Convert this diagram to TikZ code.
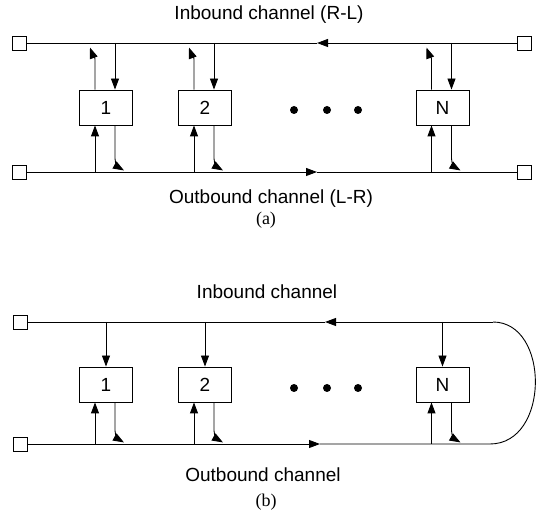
\documentclass[tikz,border=0pt]{standalone}
\usepackage{fontspec}
\setmainfont{Liberation Serif}
\newfontfamily\chfont{Liberation Sans}
\usetikzlibrary{arrows.meta}

\tikzset{
  station/.style={draw, minimum width=53pt, minimum height=35pt, inner sep=0pt, font=\chfont\fontsize{19}{22}\selectfont},
  port/.style={draw, minimum size=14pt, inner sep=0pt},
  tap/.style={-{Triangle[length=11pt,width=8pt]}},
  chlabel/.style={font=\chfont\fontsize{19}{22}\selectfont},
  caption/.style={font=\fontsize{18}{20}\selectfont},
}

\begin{document}
\begin{tikzpicture}[x=1pt,y=1pt,line width=0.9pt]
  \useasboundingbox (0,0) rectangle (536,-521);
  % (a) two open channels
  \node[port] (pa1) at (19,-43) {};
  \node[port] (pa2) at (524,-43) {};
  \node[port] (pa3) at (19,-172) {};
  \node[port] (pa4) at (524,-172) {};
  \node[station] (a1) at (106,-107.5) {1};
  \node[station] (a2) at (205,-107.5) {2};
  \node[station] (aN) at (442.5,-107.5) {N};
  \coordinate (ain) at (317,-43);
  \coordinate (aout) at (317,-172);
  \draw[tap] (pa2.west) -- (ain);
  \draw (ain) -- (pa1.east);
  \draw[tap] (pa3.east) -- (aout);
  \draw (aout) -- (pa4.west);
  \foreach \s in {a1,a2,aN} {
    \coordinate (\s-dn) at ([xshift=9pt]\s.north);
    \coordinate (\s-up) at ([xshift=-11pt]\s.north);
    \coordinate (\s-oi) at ([xshift=-11pt]\s.south);
    \coordinate (\s-ob) at ([xshift=9pt]\s.south);
    \draw[tap] (\s-dn |- pa1) -- (\s-dn);
    \draw[tap] (\s-up) -- ++(0,30) to[out=90,in=-70] ++(-5,12);
    \draw[tap] (\s-oi |- pa3) -- (\s-oi);
    \draw[tap] (\s-ob) -- ++(0,-33) to[out=-90,in=150] ++(9,-12);
  }
  \foreach \x in {294,327,358}
    \fill (\x,-110) circle (4);
  \node[chlabel] (ina) at (269,-15) {Inbound channel (R-L)};
  \node[chlabel] (outa) at (271,-199) {Outbound channel (L-R)};
  \node[caption] (capa) at (266,-220) {(a)};

  % (b) folded channel
  \node[port] (pb1) at (20,-322) {};
  \node[port] (pb2) at (20,-444) {};
  \node[station] (b1) at (106,-384.5) {1};
  \node[station] (b2) at (205,-384.5) {2};
  \node[station] (bN) at (442.5,-384.5) {N};
  \coordinate (bin) at (325,-322);
  \coordinate (bout) at (320,-444);
  \coordinate (bt) at (493,-322);
  \coordinate (bb) at (490,-444);
  \draw[tap] (bt) -- (bin);
  \draw (bin) -- (pb1.east);
  \draw[tap] (pb2.east) -- (bout);
  \draw (bout) -- (bb) .. controls (550,-444) and (550,-322) .. (bt);
  \foreach \s in {b1,b2,bN} {
    \coordinate (\s-oi) at ([xshift=-11pt]\s.south);
    \coordinate (\s-ob) at ([xshift=9pt]\s.south);
    \draw[tap] (\s.north |- pb1) -- (\s.north);
    \draw[tap] (\s-oi |- pb2) -- (\s-oi);
    \draw[tap] (\s-ob) -- ++(0,-28) to[out=-90,in=150] ++(9,-12);
  }
  \foreach \x in {294,327,358}
    \fill (\x,-388) circle (4);
  \node[chlabel] (inb) at (267,-292) {Inbound channel};
  \node[chlabel] (outb) at (263,-475) {Outbound channel};
  \node[caption] (capb) at (266,-502) {(b)};
\end{tikzpicture}
\end{document}
